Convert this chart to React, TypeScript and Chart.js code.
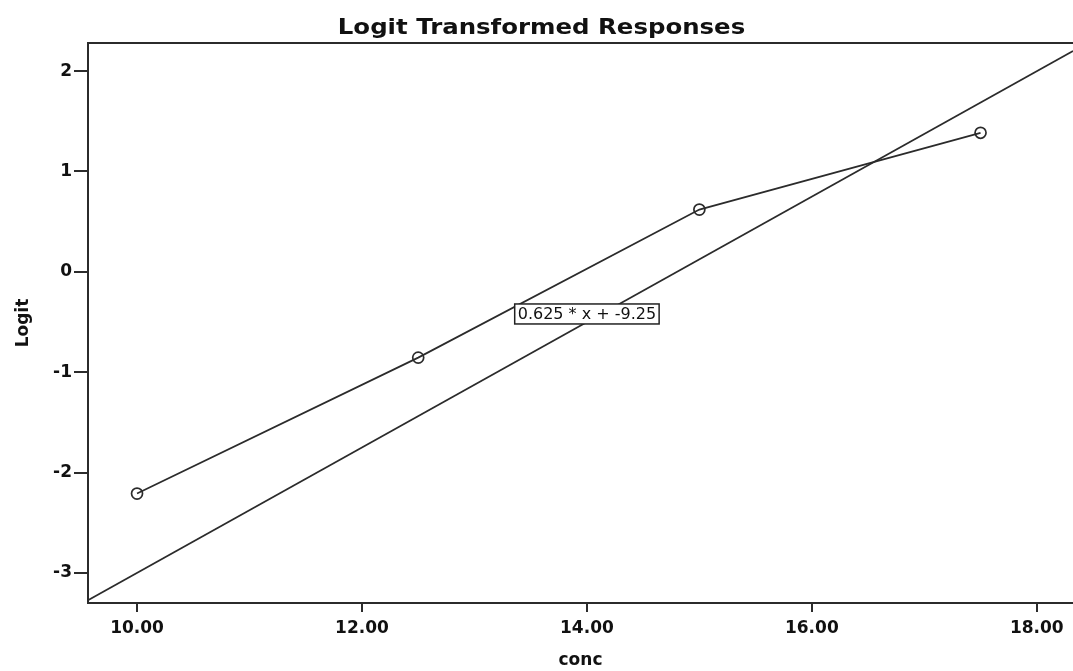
import React, { useEffect, useRef } from "react";
import { Chart, registerables } from "chart.js";

Chart.register(...registerables);

// ---- data ----
const concValues = [10, 12.5, 15, 17.5];
const logitValues = [-2.21, -0.855, 0.62, 1.385];
const fitSlope = 0.625;
const fitIntercept = -9.25;
const xTickValues = [10, 12, 14, 16, 18];
const yTickValues = [-3, -2, -1, 0, 1, 2];
const xRange = [9.564, 18.322];
const yRange = [-3.3, 2.28];
const fitLabelAt = { x: 14, y: -0.42 };
const titleText = "Logit Transformed Responses";
const xTitleText = "conc";
const yTitleText = "Logit";

const INK = "#2b2b2b";
const FONT = '"DejaVu Sans", "Liberation Sans", Arial, sans-serif';

const framePlugin = {
  id: "frame",
  afterDatasetsDraw(chart: any) {
    const { ctx, chartArea, scales } = chart;
    ctx.save();
    // top frame line
    ctx.strokeStyle = INK;
    ctx.lineWidth = 2;
    ctx.beginPath();
    ctx.moveTo(chartArea.left, chartArea.top);
    ctx.lineTo(chartArea.right, chartArea.top);
    ctx.stroke();

    // fit-line label box
    const text = `${fitSlope} * x + ${fitIntercept}`;
    const cx = scales.x.getPixelForValue(fitLabelAt.x);
    const cy = scales.y.getPixelForValue(fitLabelAt.y);
    ctx.font = `16px ${FONT}`;
    const w = ctx.measureText(text).width + 6;
    const h = 20;
    ctx.fillStyle = "#ffffff";
    ctx.fillRect(cx - w / 2, cy - h / 2, w, h);
    ctx.strokeStyle = "#222";
    ctx.lineWidth = 1.5;
    ctx.strokeRect(cx - w / 2, cy - h / 2, w, h);
    ctx.fillStyle = "#111";
    ctx.textAlign = "center";
    ctx.textBaseline = "middle";
    ctx.fillText(text, cx, cy + 1);
    ctx.restore();
  },
  afterDraw(chart: any) {
    const { ctx } = chart;
    ctx.save();
    ctx.font = `bold 22px ${FONT}`;
    ctx.fillStyle = "#111";
    ctx.textAlign = "center";
    ctx.textBaseline = "alphabetic";
    ctx.translate(chart.width / 2 + 5, 34);
    ctx.scale(1.11, 1);
    ctx.fillText(titleText, 0, 0);
    ctx.restore();
  },
};

export default function App() {
  const ref = useRef<HTMLCanvasElement | null>(null);

  useEffect(() => {
    if (!ref.current) return;
    const fitPoints = xRange.map((x) => ({ x, y: fitSlope * x + fitIntercept }));
    const dataPoints = concValues.map((x, i) => ({ x, y: logitValues[i] }));

    const chart = new Chart(ref.current, {
      type: "line",
      data: {
        datasets: [
          {
            label: "fit",
            data: fitPoints,
            borderColor: INK,
            borderWidth: 1.7,
            pointRadius: 0,
            fill: false,
          },
          {
            label: "Logit",
            data: dataPoints,
            borderColor: INK,
            borderWidth: 1.7,
            pointRadius: 5.5,
            pointBorderWidth: 1.7,
            pointBorderColor: INK,
            pointBackgroundColor: "rgba(0,0,0,0)",
            fill: false,
          },
        ],
      },
      options: {
        animation: false,
        responsive: true,
        maintainAspectRatio: false,
        layout: { autoPadding: false, padding: { top: 43, left: 0, right: 0, bottom: 0 } },
        plugins: {
          legend: { display: false },
          tooltip: { enabled: false },
          title: { display: false },
        },
        scales: {
          x: {
            type: "linear",
            min: xRange[0],
            max: xRange[1],
            afterBuildTicks: (scale: any) => {
              scale.ticks = xTickValues.map((v) => ({ value: v }));
            },
            afterFit: (scale: any) => {
              scale.height = 68;
              scale.paddingLeft = 0;
              scale.paddingRight = 0;
            },
            grid: {
              display: true,
              drawOnChartArea: false,
              drawTicks: true,
              tickLength: 9,
              color: INK,
              lineWidth: 2,
            },
            border: { display: true, color: INK, width: 2 },
            ticks: {
              color: "#111",
              padding: 6,
              maxRotation: 0,
              autoSkip: false,
              font: { family: FONT, size: 17, weight: "bold" },
              callback: (v: any) => Number(v).toFixed(2),
            },
            title: {
              display: true,
              text: xTitleText,
              color: "#111",
              font: { family: FONT, size: 17, weight: "bold" },
              padding: { top: 0, bottom: 0 },
            },
          },
          y: {
            type: "linear",
            min: yRange[0],
            max: yRange[1],
            afterBuildTicks: (scale: any) => {
              scale.ticks = yTickValues.map((v) => ({ value: v }));
            },
            afterFit: (scale: any) => {
              scale.width = 88;
              scale.paddingTop = 0;
              scale.paddingBottom = 0;
            },
            grid: {
              display: true,
              drawOnChartArea: false,
              drawTicks: true,
              tickLength: 14,
              color: INK,
              lineWidth: 2,
            },
            border: { display: true, color: INK, width: 2 },
            ticks: {
              color: "#111",
              padding: 2,
              autoSkip: false,
              font: { family: FONT, size: 17, weight: "bold" },
              callback: (v: any) => String(v),
            },
            title: {
              display: true,
              text: yTitleText,
              color: "#111",
              font: { family: FONT, size: 17, weight: "bold" },
              padding: { top: 13, bottom: 0 },
            },
          },
        },
      },
      plugins: [framePlugin],
    });
    return () => chart.destroy();
  }, []);

  return (
    <div style={{ position: "absolute", left: 0, top: 0, width: 1073, height: 671, background: "#fff" }}>
      <canvas ref={ref} />
    </div>
  );
}
